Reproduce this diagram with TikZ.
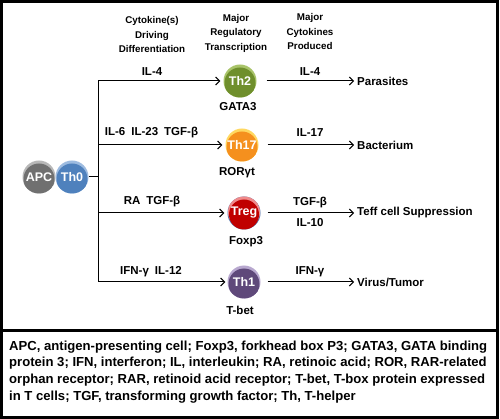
\documentclass[tikz,border=0pt]{standalone}
\usepackage{fontspec}
\setmainfont{Liberation Sans}
\usetikzlibrary{arrows.meta,calc}
\definecolor{olivedk}{HTML}{6F8F2C}
\definecolor{olivelt}{HTML}{A9C46A}
\definecolor{orangedk}{HTML}{F5901E}
\definecolor{orangelt}{HTML}{FFD860}
\definecolor{reddk}{HTML}{C00000}
\definecolor{redlt}{HTML}{F08A8A}
\definecolor{redrim}{HTML}{4F6FA8}
\definecolor{purpledk}{HTML}{5F497A}
\definecolor{purplelt}{HTML}{B8A8CF}
\definecolor{graydk}{HTML}{707070}
\definecolor{graylt}{HTML}{B8B8B8}
\definecolor{bluedk}{HTML}{4F81BD}
\definecolor{bluelt}{HTML}{9DBBE0}
\begin{document}
\begin{tikzpicture}[x=1pt,y=-1pt,
  lbl/.style={font=\bfseries\fontsize{11.5}{13}\selectfont, inner sep=0pt},
  hdr/.style={font=\bfseries\fontsize{9.8}{14.5}\selectfont, align=center, inner sep=0pt},
  arr/.style={line width=1pt, -{Straight Barb[length=4pt,width=8pt]}},
  ln/.style={line width=1pt},
  cell/.style 2 args={circle, minimum size=33pt, inner sep=0pt, fill=#2, text=white,
    font=\bfseries\fontsize{12.5}{13}\selectfont,
    path picture={\fill[#1] ([yshift=-2pt]path picture bounding box.center) circle (15.5pt);}},
  tregcell/.style={circle, minimum size=33pt, inner sep=0pt, fill=redrim, text=white,
    font=\bfseries\fontsize{12.5}{13}\selectfont,
    path picture={\fill[redlt] ([yshift=1pt]path picture bounding box.center) circle (16pt);
      \fill[reddk] ([yshift=-1.5pt]path picture bounding box.center) circle (15pt);}}
]
\useasboundingbox (0,0) rectangle (500,419);
% frame
\draw[line width=3pt] (1.5,1.5) rectangle (497.5,417.5);
\draw[line width=3pt] (1.5,330) -- (497.5,330);

% headers
\node[hdr] (h1) at (152,35) {Cytokine(s)\\Driving\\Differentiation};
\node[hdr] (h2) at (236,33) {Major\\Regulatory\\Transcription};
\node[hdr] (h3) at (310,32) {Major\\Cytokines\\Produced};

% APC / Th0
\node[cell={graydk}{graylt}] (apc) at (39,177) {APC};
\node[cell={bluedk}{bluelt}] (th0) at (72,177) {Th0};

% cells
\node[cell={olivedk}{olivelt}] (th2) at (240,81) {Th2};
\node[cell={orangedk}{orangelt}] (th17) at (242,145) {Th17};
\node[tregcell] (treg) at (244,213) {Treg};
\node[cell={purpledk}{purplelt}] (th1) at (244,282) {Th1};

% transcription factors
\node[lbl] (gata) at (238,107) {GATA3};
\node[lbl] (ror) at (237,173) {RORγt};
\node[lbl] (foxp) at (246,242) {Foxp3};
\node[lbl] (tbet) at (240,310) {T-bet};

% tree
\coordinate (j) at (98,177);
\coordinate (j1) at (98,81);
\coordinate (j2) at (98,145);
\coordinate (j3) at (98,213);
\coordinate (j4) at (98,282);
\draw[ln] (th0.east) -- (j);
\draw[ln] (j1) -- (j4);
\draw[arr, shorten >=3pt] (j1) -- (th2.west);
\draw[arr, shorten >=3pt] (j2) -- (th17.west);
\draw[arr, shorten >=3pt] (j3) -- (treg.west);
\draw[arr, shorten >=2pt] (j4) -- (th1.west);

% driving cytokines
\node[lbl] (d1) at (152,72) {IL-4};
\node[lbl] (d2) at (151.5,133) {IL-6\hspace{6pt}IL-23\hspace{6pt}TGF-β};
\node[lbl] (d3) at (152,202) {RA\hspace{6pt}TGF-β};
\node[lbl] (d4) at (151,272) {IFN-γ\hspace{6pt}IL-12};

% outcomes
\node[lbl, anchor=west] (o1) at (357,81) {Parasites};
\node[lbl, anchor=west] (o2) at (357,145) {Bacterium};
\node[lbl, anchor=west] (o3) at (357,213) {Teff cell Suppression};
\node[lbl, anchor=west] (o4) at (357,282) {Virus/Tumor};
\draw[arr, shorten <=10pt, shorten >=3pt] (th2.east) -- (o1.west);
\draw[arr, shorten <=9pt, shorten >=3pt] (th17.east) -- (o2.west);
\draw[arr, shorten <=7pt, shorten >=3pt] (treg.east) -- (o3.west);
\draw[arr, shorten <=7pt, shorten >=3pt] (th1.east) -- (o4.west);

% produced cytokines
\node[lbl] (p1) at (310,72) {IL-4};
\node[lbl] (p2) at (310,133) {IL-17};
\node[lbl] (p3) at (310,203) {TGF-β};
\node[lbl] (p3b) at (310,223) {IL-10};
\node[lbl] (p4) at (310,272) {IFN-γ};

% legend
\node[anchor=north west, inner sep=0pt, align=left,
  font=\bfseries\fontsize{13.1}{16.7}\selectfont] (leg) at (9,340.5)
 {APC, antigen-presenting cell; Foxp3, forkhead box P3; GATA3, GATA binding\\
  protein 3; IFN, interferon; IL, interleukin; RA, retinoic acid; ROR, RAR-related\\
  orphan receptor; RAR, retinoid acid receptor; T-bet, T-box protein expressed\\
  in T cells; TGF, transforming growth factor; Th, T-helper};
\end{tikzpicture}
\end{document}
